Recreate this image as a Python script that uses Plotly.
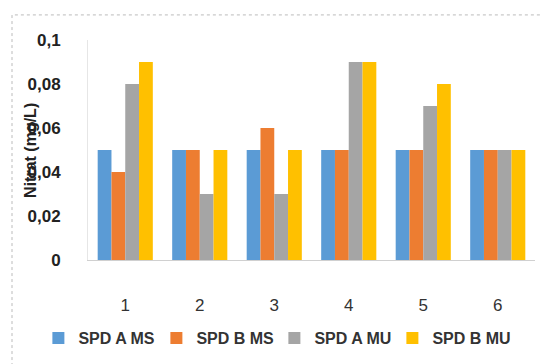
import plotly.graph_objects as go

categories = ["1", "2", "3", "4", "5", "6"]
series_names = ["SPD A MS", "SPD B MS", "SPD A MU", "SPD B MU"]
spd_a_ms = [0.05, 0.05, 0.05, 0.05, 0.05, 0.05]
spd_b_ms = [0.04, 0.05, 0.06, 0.05, 0.05, 0.05]
spd_a_mu = [0.08, 0.03, 0.03, 0.09, 0.07, 0.05]
spd_b_mu = [0.09, 0.05, 0.05, 0.09, 0.08, 0.05]
y_tick_vals = [0, 0.02, 0.04, 0.06, 0.08, 0.1]
y_tick_text = ["0", "0,02", "0,04", "0,06", "0,08", "0,1"]
y_title = "Nitrat (mg/L)"

colors = ["#5B9BD5", "#ED7D31", "#A5A5A5", "#FFC000"]
values = [spd_a_ms, spd_b_ms, spd_a_mu, spd_b_mu]

fig = go.Figure()
for name, vals, c in zip(series_names, values, colors):
    fig.add_trace(go.Bar(x=categories, y=vals, name=name, marker_color=c,
                         marker_line_width=0))

fig.update_layout(
    width=540, height=364,
    margin=dict(l=88, r=5, t=40, b=104),
    paper_bgcolor="white", plot_bgcolor="white",
    barmode="group", bargap=0.26, bargroupgap=0,
    font=dict(family="Liberation Sans", color="#222222"),
    showlegend=True,
    legend=dict(orientation="h", x=-0.111, xanchor="left", y=-0.355, yanchor="middle",
                font=dict(size=16, color="#333333", weight="bold"),
                itemwidth=30, entrywidth=73, entrywidthmode="pixels",
                tracegroupgap=0),
    xaxis=dict(showline=True, linecolor="#D0D0D0", linewidth=1, ticks="",
               tickfont=dict(size=17, color="#333333"), ticklabelstandoff=30),
    yaxis=dict(range=[0, 0.1], tickvals=y_tick_vals, ticktext=y_tick_text,
               showgrid=False, zeroline=False, showline=True, linecolor="#E6E6E6",
               tickfont=dict(size=17, color="#222222", weight="bold"),
               ticklabelstandoff=23),
    annotations=[dict(text=y_title, textangle=-90, xref="paper", yref="paper",
                      x=-0.130, y=0.5, xanchor="center", yanchor="middle",
                      showarrow=False,
                      font=dict(size=16, color="#222222", weight="bold"))],
    shapes=[dict(type="rect", xref="paper", yref="paper", x0=-0.170, x1=1.2,
                 y0=-0.6, y1=1.114, line=dict(color="#BBBBBB", width=1, dash="dot"))],
)

fig.write_html("out.html", config={"displayModeBar": False},
               post_script="document.body.style.margin='0';")
